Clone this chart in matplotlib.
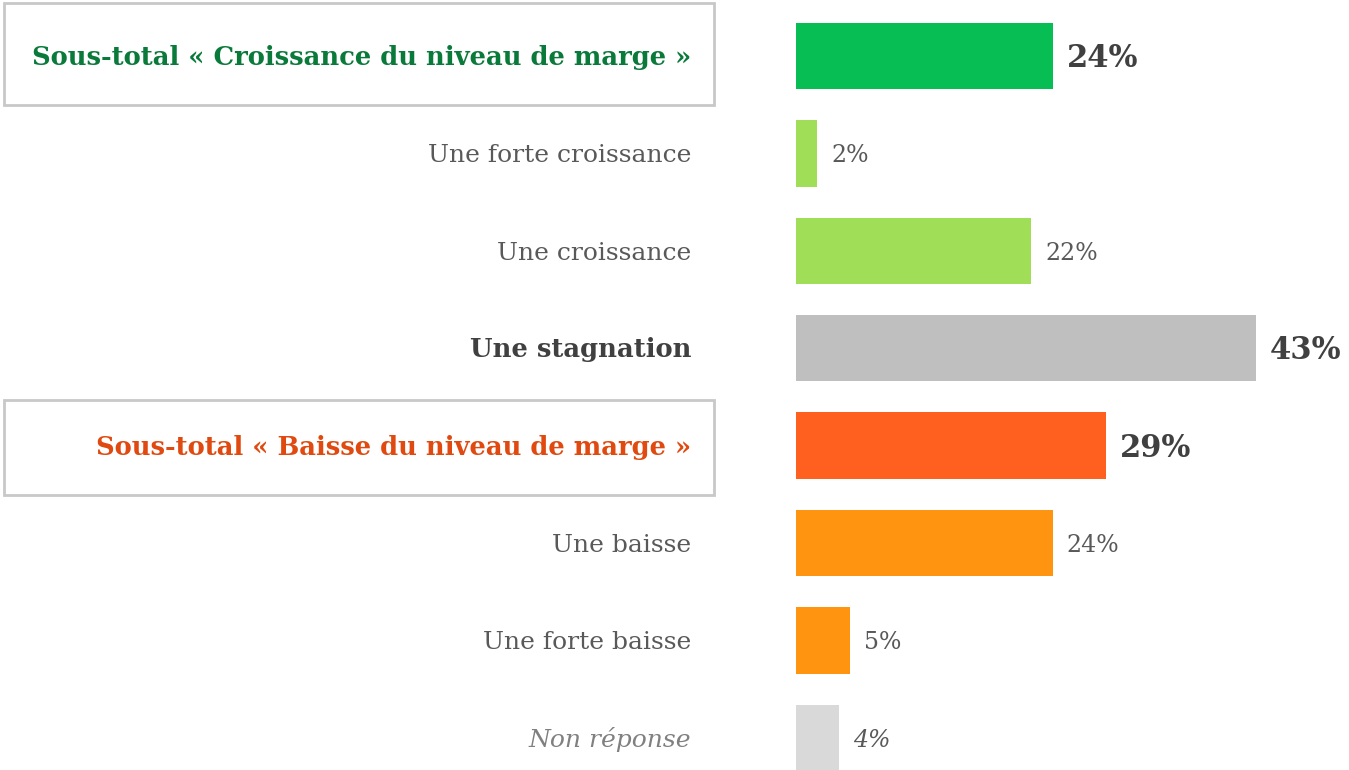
import matplotlib
matplotlib.use("Agg")
import matplotlib.pyplot as plt
from matplotlib.patches import Rectangle

categories = ["Sous-total « Croissance du niveau de marge »", "Une forte croissance",
              "Une croissance", "Une stagnation", "Sous-total « Baisse du niveau de marge »",
              "Une baisse", "Une forte baisse", "Non réponse"]
values = [24, 2, 22, 43, 29, 24, 5, 4]
bar_colors = ["#07BE55", "#A0DE58", "#A0DE58", "#BFBFBF", "#FF6020", "#FF9410", "#FF9410", "#D9D9D9"]
label_colors = ["#0A7A3A", "#595959", "#595959", "#404040", "#E04A10", "#595959", "#595959", "#808080"]
label_weights = ["bold", "normal", "normal", "bold", "bold", "normal", "normal", "normal"]
label_styles = ["normal"] * 7 + ["italic"]
value_bold = [True, False, False, True, True, False, False, False]

FONT = "DejaVu Serif"
W, H = 1349, 770
fig = plt.figure(figsize=(W / 100, H / 100), dpi=100)
x0 = 796
ax = fig.add_axes([x0 / W, 0, 1 - x0 / W, 1])
pxu = 10.7
ax.set_xlim(0, (W - x0) / pxu)
step = 97.4
ax.set_ylim((H - 56) / step, -56 / step)
ax.axis("off")

ys = list(range(len(categories)))
ax.barh(ys, values, height=0.68, color=bar_colors, edgecolor="none")

for i, (v, b) in enumerate(zip(values, value_bold)):
    ax.text(v + 14 / pxu, i + (11 if b else 9) / step, f"{v}%", va="baseline", ha="left",
            fontsize=22 if b else 17, fontweight="bold" if b else "normal",
            color="#404040" if b else "#595959", family=FONT,
            fontstyle="italic" if i == 7 else "normal")

for i, c in enumerate(categories):
    fig.text(691 / W, 1 - (56 + step * i + 9) / H, c, ha="right", va="baseline",
             fontsize=18.6 if label_weights[i] == "bold" else 18,
             fontweight=label_weights[i], fontstyle=label_styles[i],
             color=label_colors[i], family=FONT)

# boxes around subtotal labels
for (top, bot) in [(3, 105), (400, 495)]:
    fig.patches.append(Rectangle((4 / W, 1 - bot / H), (714 - 4) / W, (bot - top) / H,
                                 transform=fig.transFigure, fill=False,
                                 edgecolor="#C8C8C8", linewidth=2))

fig.savefig("out.png", dpi=100)
